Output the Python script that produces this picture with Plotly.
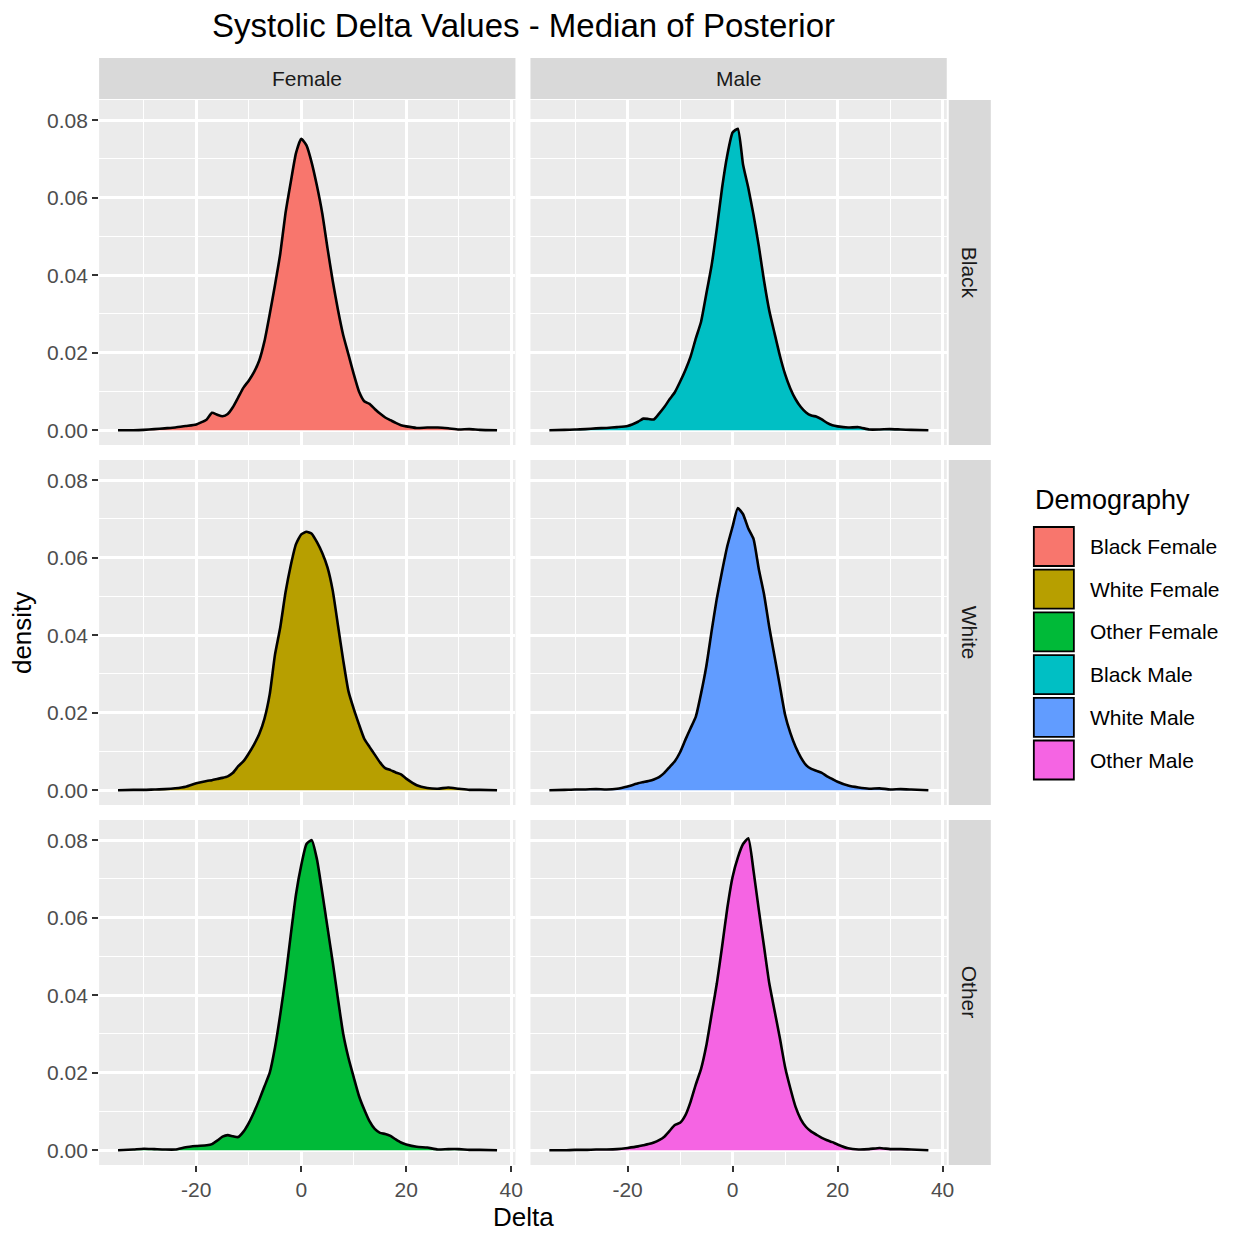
import plotly.graph_objects as go

# ---------------- data ----------------
delta = [-34.9, -32, -30, -28, -26, -24, -22, -20,
         -18, -17, -16, -15, -14, -13, -12, -11, -10, -9, -8, -7, -6, -5, -4, -3, -2, -1,
         0, 1, 2, 3, 4, 5, 6, 7, 8, 9, 10, 11, 12, 13, 14, 15, 16, 17, 18, 19, 20,
         22, 24, 26, 28, 30, 32, 34, 37.3]

black_female = [0, 0.0000, 0.0001, 0.0003, 0.0005, 0.0007, 0.0011, 0.0015,
                0.0028, 0.0045, 0.0040, 0.0036, 0.0042, 0.0060, 0.0085, 0.0110, 0.0128, 0.0150, 0.0180,
                0.0230, 0.0300, 0.0375, 0.0455, 0.0560, 0.0640, 0.0715,
                0.0752, 0.0735, 0.0690, 0.0630, 0.0560, 0.0470, 0.0385, 0.0310, 0.0245, 0.0195, 0.0145,
                0.0100, 0.0075, 0.0068, 0.0055, 0.0043, 0.0033, 0.0026, 0.0019, 0.0013, 0.0010,
                0.0006, 0.0007, 0.0007, 0.0005, 0.0002, 0.0003, 0.0001, 0.0]

black_male = [0, 0.0001, 0.0002, 0.0003, 0.0005, 0.0006, 0.0008, 0.0011,
              0.0022, 0.0030, 0.0029, 0.0028, 0.0043, 0.0060, 0.0080, 0.0098, 0.0125, 0.0155, 0.0190,
              0.0237, 0.0280, 0.0352, 0.0425, 0.0520, 0.0625, 0.0710,
              0.0768, 0.0778, 0.0685, 0.0625, 0.0555, 0.0475, 0.0385, 0.0308, 0.0250, 0.0193, 0.0145,
              0.0108, 0.0080, 0.0060, 0.0046, 0.0038, 0.0035, 0.0028, 0.0019, 0.0013, 0.0010,
              0.0007, 0.0008, 0.0002, 0.0002, 0.0003, 0.0002, 0.0001, 0.0]

white_female = [0, 0.0001, 0.0001, 0.0002, 0.0003, 0.0005, 0.0009, 0.0018,
                0.0024, 0.0026, 0.0029, 0.0032, 0.0036, 0.0045, 0.0062, 0.0075, 0.0095, 0.0118, 0.0145,
                0.0185, 0.0248, 0.0350, 0.0420, 0.0510, 0.0580, 0.0635,
                0.0660, 0.0667, 0.0662, 0.0640, 0.0612, 0.0575, 0.0515, 0.0425, 0.0335, 0.0255, 0.0210,
                0.0170, 0.0133, 0.0112, 0.0092, 0.0072, 0.0057, 0.0052, 0.0046, 0.0041, 0.0030,
                0.0013, 0.0006, 0.0004, 0.0007, 0.0004, 0.0001, 0.0001, 0.0]

white_male = [0, 0.0001, 0.0002, 0.0002, 0.0003, 0.0002, 0.0004, 0.0010,
              0.0018, 0.0021, 0.0024, 0.0028, 0.0034, 0.0045, 0.0060, 0.0075, 0.0098, 0.0130, 0.0160,
              0.0190, 0.0250, 0.0320, 0.0410, 0.0495, 0.0565, 0.0630,
              0.0680, 0.0728, 0.0712, 0.0675, 0.0648, 0.0570, 0.0505, 0.0420, 0.0345, 0.0270, 0.0195,
              0.0148, 0.0112, 0.0085, 0.0065, 0.0055, 0.0050, 0.0045, 0.0036, 0.0029, 0.0022,
              0.0012, 0.0007, 0.0004, 0.0005, 0.0002, 0.0003, 0.0002, 0.0]

other_female = [0, 0.0002, 0.0004, 0.0003, 0.0002, 0.0002, 0.0008, 0.0011,
                0.0013, 0.0016, 0.0025, 0.0035, 0.0039, 0.0036, 0.0034, 0.0048, 0.0070, 0.0098, 0.0130,
                0.0165, 0.0200, 0.0265, 0.0350, 0.0445, 0.0555, 0.0660,
                0.0735, 0.0790, 0.0800, 0.0750, 0.0665, 0.0575, 0.0485, 0.0390, 0.0300, 0.0238, 0.0188,
                0.0140, 0.0105, 0.0075, 0.0055, 0.0045, 0.0042, 0.0037, 0.0028, 0.0020, 0.0015,
                0.0009, 0.0007, 0.0002, 0.0003, 0.0003, 0.0001, 0.0001, 0.0]

other_male = [0, 0.0000, 0.0001, 0.0001, 0.0002, 0.0002, 0.0003, 0.0006,
              0.0010, 0.0013, 0.0016, 0.0020, 0.0026, 0.0035, 0.0050, 0.0065, 0.0071, 0.0090, 0.0125,
              0.0170, 0.0210, 0.0270, 0.0350, 0.0430, 0.0525, 0.0625,
              0.0705, 0.0755, 0.0790, 0.0805, 0.0720, 0.0620, 0.0525, 0.0430, 0.0360, 0.0290, 0.0215,
              0.0160, 0.0112, 0.0080, 0.0060, 0.0048, 0.0040, 0.0032, 0.0026, 0.0021, 0.0015,
              0.0005, 0.0002, 0.0003, 0.0006, 0.0003, 0.0003, 0.0002, 0.0]

sexes = ["Female", "Male"]
races = ["Black", "White", "Other"]
legend_labels = ["Black Female", "White Female", "Other Female",
                 "Black Male", "White Male", "Other Male"]
series = {
    ("Black", "Female"): black_female, ("Black", "Male"): black_male,
    ("White", "Female"): white_female, ("White", "Male"): white_male,
    ("Other", "Female"): other_female, ("Other", "Male"): other_male,
}
x_ticks = [-20, 0, 20, 40]
x_ticktext = ["-20", "0", "20", "40"]
x_minor = [-30, -10, 10, 30]
y_ticks = [0, 0.02, 0.04, 0.06, 0.08]
y_ticktext = ["0.00", "0.02", "0.04", "0.06", "0.08"]
y_minor = [0.01, 0.03, 0.05, 0.07]

# ---------------- styling / layout ----------------
colors = {"Black Female": "#F8766D", "White Female": "#B79F00", "Other Female": "#00BA38",
          "Black Male": "#00BFC4", "White Male": "#619CFF", "Other Male": "#F564E3"}
WIN_W, WIN_H = 1235, 1236
BODY_MARGIN = 8  # default page margin around the plot div
X_SCALE = 0.9935  # observed horizontal scale of the captured page
W, H = WIN_W - 2 * BODY_MARGIN, WIN_H - BODY_MARGIN
FONT = "Liberation Sans, Arial, Helvetica, sans-serif"


def fx(p):
    return (p / X_SCALE - BODY_MARGIN) / W


def fy(p):
    return 1 - (p - BODY_MARGIN) / H


col_px = [(99, 515), (530, 946)]
row_px = [(100, 445), (460, 805), (820, 1165)]
strip_top = (58, 99)
strip_right = (948, 990)

fig = go.Figure()
layout = dict(
    width=W, height=H, margin=dict(l=0, r=0, t=0, b=0),
    paper_bgcolor="white", plot_bgcolor="#EBEBEB",
    showlegend=False, font=dict(family=FONT),
)
shapes = []
annotations = []

idx = 0
for r, race in enumerate(races):
    for c, sex in enumerate(sexes):
        idx += 1
        xa = "x" if idx == 1 else f"x{idx}"
        ya = "y" if idx == 1 else f"y{idx}"
        name = f"{race} {sex}"
        fig.add_trace(go.Scatter(
            x=delta, y=series[(race, sex)], xaxis=xa, yaxis=ya,
            mode="lines", fill="tozeroy", fillcolor=colors[name],
            line=dict(color="black", width=2.6, shape="spline", smoothing=0.5),
            name=name, hoverinfo="x+y",
        ))
        bottom = r == len(races) - 1
        left = c == 0
        layout["xaxis" if idx == 1 else f"xaxis{idx}"] = dict(
            domain=[fx(col_px[c][0]), fx(col_px[c][1])],
            anchor=ya, range=[-38.5, 40.8],
            tickmode="array", tickvals=x_ticks, ticktext=x_ticktext,
            showticklabels=bottom, ticks="outside" if bottom else "",
            ticklen=6, tickwidth=1.8, tickcolor="#333333",
            tickfont=dict(size=21, color="#4D4D4D", family=FONT),
            showgrid=True, gridcolor="white", gridwidth=2.6,
            minor=dict(tickmode="array", tickvals=x_minor, showgrid=True,
                       gridcolor="white", gridwidth=1.3, ticks=""),
            zeroline=False, showline=False, fixedrange=True,
        )
        layout["yaxis" if idx == 1 else f"yaxis{idx}"] = dict(
            domain=[fy(row_px[r][1]), fy(row_px[r][0])],
            anchor=xa, range=[-0.0038, 0.0852],
            tickmode="array", tickvals=y_ticks, ticktext=y_ticktext,
            showticklabels=left, ticks="outside" if left else "",
            ticklen=6, tickwidth=1.8, tickcolor="#333333",
            tickfont=dict(size=21, color="#4D4D4D", family=FONT),
            showgrid=True, gridcolor="white", gridwidth=2.6,
            minor=dict(tickmode="array", tickvals=y_minor, showgrid=True,
                       gridcolor="white", gridwidth=1.3, ticks=""),
            zeroline=False, showline=False, fixedrange=True,
        )

# top strips
for c, sex in enumerate(sexes):
    shapes.append(dict(type="rect", xref="paper", yref="paper",
                       x0=fx(col_px[c][0]), x1=fx(col_px[c][1]),
                       y0=fy(strip_top[1]), y1=fy(strip_top[0]),
                       fillcolor="#D9D9D9", line=dict(width=0), layer="below"))
    annotations.append(dict(text=sex, xref="paper", yref="paper",
                            x=fx((col_px[c][0] + col_px[c][1]) / 2),
                            y=fy((strip_top[0] + strip_top[1]) / 2),
                            showarrow=False, xanchor="center", yanchor="middle",
                            font=dict(size=21, color="#1A1A1A", family=FONT)))
# right strips
for r, race in enumerate(races):
    shapes.append(dict(type="rect", xref="paper", yref="paper",
                       x0=fx(strip_right[0]), x1=fx(strip_right[1]),
                       y0=fy(row_px[r][1]), y1=fy(row_px[r][0]),
                       fillcolor="#D9D9D9", line=dict(width=0), layer="below"))
    annotations.append(dict(text=race, xref="paper", yref="paper",
                            x=fx((strip_right[0] + strip_right[1]) / 2),
                            y=fy((row_px[r][0] + row_px[r][1]) / 2),
                            textangle=90, showarrow=False,
                            xanchor="center", yanchor="middle",
                            font=dict(size=21, color="#1A1A1A", family=FONT)))

# title and axis titles
annotations.append(dict(text="Systolic Delta Values - Median of Posterior",
                        xref="paper", yref="paper", x=fx(523), y=fy(25),
                        showarrow=False, xanchor="center", yanchor="middle",
                        font=dict(size=33, color="black", family=FONT)))
annotations.append(dict(text="Delta", xref="paper", yref="paper",
                        x=fx(523), y=fy(1217), showarrow=False,
                        xanchor="center", yanchor="middle",
                        font=dict(size=26, color="black", family=FONT)))
annotations.append(dict(text="density", xref="paper", yref="paper",
                        x=fx(22), y=fy(633), textangle=-90, showarrow=False,
                        xanchor="center", yanchor="middle",
                        font=dict(size=26, color="black", family=FONT)))

# legend (drawn manually to match ggplot's large keys)
annotations.append(dict(text="Demography", xref="paper", yref="paper",
                        x=fx(1032), y=fy(500), showarrow=False,
                        xanchor="left", yanchor="middle",
                        font=dict(size=27, color="black", family=FONT)))
key_top, key_h, key_pitch = 527, 39, 42.7
for i, lab in enumerate(legend_labels):
    y0 = key_top + i * key_pitch
    shapes.append(dict(type="rect", xref="paper", yref="paper",
                       x0=fx(1033), x1=fx(1073), y0=fy(y0 + key_h), y1=fy(y0),
                       fillcolor=colors[lab], line=dict(color="black", width=1.8)))
    annotations.append(dict(text=lab, xref="paper", yref="paper",
                            x=fx(1087), y=fy(y0 + key_h / 2), showarrow=False,
                            xanchor="left", yanchor="middle",
                            font=dict(size=21, color="black", family=FONT)))

layout["shapes"] = shapes
layout["annotations"] = annotations
fig.update_layout(**layout)
fig.write_html("out.html")
